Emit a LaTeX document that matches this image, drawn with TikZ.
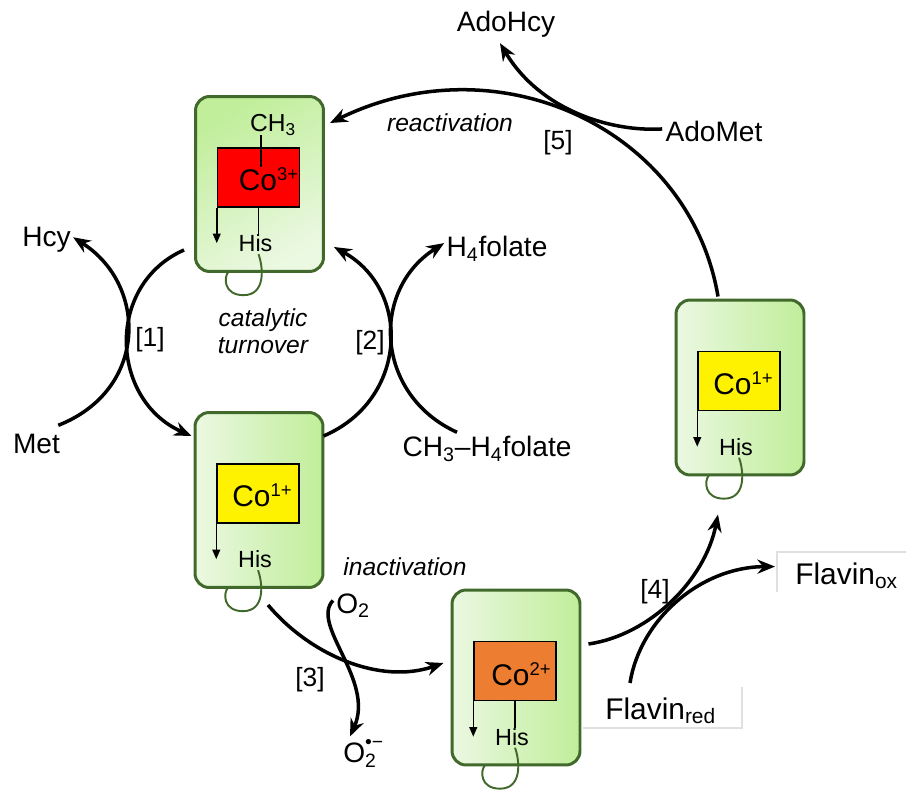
\documentclass[tikz,border=0pt]{standalone}
\usepackage{fontspec}
\setmainfont{Liberation Sans}
\usetikzlibrary{arrows.meta, positioning, shapes}

\definecolor{boxline}{HTML}{41692B}
\definecolor{boxlight}{HTML}{EBF8E2}
\definecolor{boxdark}{HTML}{C0EE9A}
\definecolor{coorange}{HTML}{ED7D31}

\begin{document}
\begin{tikzpicture}[
    x = 0.02cm, y = -0.02cm, % one unit per pixel, y pointing down
    > = {Stealth[length=10pt, width=8pt]}, % arrow head style
    every node/.style = {inner sep=0pt},
    enzyme/.style = {draw=boxline, line width=1.7pt, rounded corners=8pt,
        minimum width=2.56cm, minimum height=3.5cm,
        left color=boxlight, right color=boxdark},
    core/.style = {draw=black, line width=0.85pt, minimum width=1.64cm, minimum height=1.18cm},
    ion/.style = {font=\fontsize{17}{20}\selectfont},
    his/.style = {font=\fontsize{13.3}{16}\selectfont},
    species/.style = {font=\fontsize{16}{19}\selectfont, anchor=base},
    flavin/.style = {font=\fontsize{17}{20}\selectfont, anchor=base west},
    stepno/.style = {font=\fontsize{15}{18}\selectfont, anchor=base},
    note/.style = {font=\fontsize{14}{15.3}\selectfont\itshape, align=center},
    flow/.style = {->, line width=2pt}, % reaction arrows
    ligand/.style = {line width=0.85pt},
    faint/.style = {draw=black!12, line width=0.6pt},
    hisloop/.pic = {
        \draw[boxline, line width=1.1pt] (3,11) .. controls (8,25) and (10,52) .. (-12,52)
            .. controls (-32,52) and (-32,34) .. (-27,28.5);
    }
    ]

    \useasboundingbox (0,0) rectangle (906,790);

    % enzyme states
    \node[enzyme, top color=boxdark, bottom color=boxlight, shading angle=30] (bA) at (259.5,184) {};
    \node[enzyme] (bB) at (259,500) {};
    \node[enzyme] (bC) at (516,677.5) {};
    \node[enzyme] (bD) at (740,387.5) {};

    \node[core, fill=red] (cA) at ([shift={(-1,-6.5)}]bA.center) {};
    \node[core, fill=yellow] (cB) at ([shift={(-1,-6.5)}]bB.center) {};
    \node[core, fill=coorange] (cC) at ([shift={(-1,-6.5)}]bC.center) {};
    \node[core, fill=yellow] (cD) at ([shift={(-1,-6.5)}]bD.center) {};

    \node[ion] (coA) at ([shift={(10,2)}]cA.center) {Co\raisebox{5.7pt}{\fontsize{10.5}{11}\selectfont 3+}};
    \node[ion] (coB) at ([shift={(4,2)}]cB.center) {Co\raisebox{5.7pt}{\fontsize{10.5}{11}\selectfont 1+}};
    \node[ion] (coC) at ([shift={(6,3)}]cC.center) {Co\raisebox{5.7pt}{\fontsize{10.5}{11}\selectfont 2+}};
    \node[ion] (coD) at ([shift={(4,2)}]cD.center) {Co\raisebox{5.7pt}{\fontsize{10.5}{11}\selectfont 1+}};

    \node[his] (hA) [below=0.53cm of cA, xshift=-1.7pt] {His};
    \node[his] (hB) [below=0.53cm of cB, xshift=-1.7pt] {His};
    \node[his] (hC) [below=0.53cm of cC, xshift=-1.7pt] {His};
    \node[his] (hD) [below=0.53cm of cD, xshift=-1.7pt] {His};

    \node[his, font=\fontsize{14}{16}\selectfont, anchor=base] (meA) at ([shift={(14.5,-16)}]cA.north) {CH\textsubscript{3}};
    \draw[ligand] ([shift={(2.5,-12)}]cA.north) -- ([shift={(2.5,20)}]cA.north);

    \draw[ligand] (cA.south) -- (cA.south |- hA.north);
    \draw[ligand] (cC.south) -- (cC.south |- hC.north);
    \draw[ligand, -{Triangle[length=5.5pt, width=4.5pt]}] (cA.south west) -- (cA.south west |- hA);
    \draw[ligand, -{Triangle[length=5.5pt, width=4.5pt]}] (cB.south west) -- (cB.south west |- hB);
    \draw[ligand, -{Triangle[length=5.5pt, width=4.5pt]}] (cC.south west) -- (cC.south west |- hC);
    \draw[ligand, -{Triangle[length=5.5pt, width=4.5pt]}] (cD.south west) -- (cD.south west |- hD);

    \pic at (hA) {hisloop};
    \pic at (hB) {hisloop};
    \pic at (hC) {hisloop};
    \pic at (hD) {hisloop};

    % substrates and products
    \node[species] (adohcy) at (506,32) {AdoHcy};
    \node[species] (adomet) at (714,142) {AdoMet};
    \node[species] (hcy) at (46.5,247) {Hcy};
    \node[species] (met) at (36.5,453) {Met};
    \node[species] (h4fol) at (497,257) {H\textsubscript{4}folate};
    \node[species] (ch3fol) at (487,457) {CH\textsubscript{3}--H\textsubscript{4}folate};
    \node[species, anchor=base west] (o2) at (336,613) {O\textsubscript{2}};
    \node[species, anchor=base west] (sox) at (343,762)
        {O\rlap{\raisebox{-3pt}{\fontsize{11}{11}\selectfont 2}}\raisebox{7.5pt}{\fontsize{11}{11}\selectfont •−}};
    \node[flavin] (flred) at (605,719) {Flavin\textsubscript{red}};
    \node[flavin] (flox) at (795,584) {Flavin\textsubscript{ox}};
    \draw[faint] (583,728) -| (742,687);
    \draw[faint] (777,592) |- (906,552);

    % step numbers and notes
    \node[stepno] (s1) at (150,346.5) {[1]};
    \node[stepno] (s2) at (370,349.5) {[2]};
    \node[stepno] (s3) at (310,686.5) {[3]};
    \node[stepno] (s4) at (655,598) {[4]};
    \node[stepno] (s5) at (558,149.5) {[5]};
    \node[note] (turn) at (263,331) {catalytic\\turnover};
    \node[note, anchor=base] (react) at (450,132) {reactivation};
    \node[note, anchor=base] (inact) at (405,575) {inactivation};

    % [1]
    \draw[flow] ([shift={(-10,-23)}]bA.south west) .. controls (105,285) and (110,400) .. ([shift={(-2,25)}]bB.north west);
    \draw[flow] ([shift={(-2,-8)}]met.north east) .. controls (148,390) and (148,285) .. ([shift={(2,-3)}]hcy.east);
    % [2]
    \draw[flow] ([shift={(-1,25)}]bB.north east) .. controls (408,400) and (412,290) .. ([shift={(9,-26)}]bA.south east);
    \draw[flow] ([shift={(-30,-4)}]ch3fol.north) .. controls (375,395) and (370,290) .. ([shift={(-2,-6)}]h4fol.west);
    % [3]
    \draw[flow] ([shift={(9,16)}]bB.south) .. controls (310,655) and (380,685) .. ([shift={(-7,-14.5)}]bC.west);
    \draw[flow] ([shift={(-3,-5)}]o2.west) .. controls (310,625) and (375,680) .. ([shift={(7,-3)}]sox.north west);
    % [4]
    \draw[flow] ([shift={(7,-33.5)}]bC.east) .. controls (650,635) and (705,580) .. ([shift={(-22,38)}]bD.south);
    \draw[flow] ([shift={(25,-14)}]flred.north west) .. controls (640,620) and (700,567) .. ([shift={(-20,-9)}]flox.west);
    % [5]
    \draw[flow] ([shift={(-22,-2)}]bD.north) .. controls (690,130) and (500,40) .. ([shift={(5,28)}]bA.north east);
    \draw[flow] ([shift={(-3,-3)}]adomet.west) .. controls (610,132) and (540,110) .. ([shift={(-6,5)}]adohcy.south);

\end{tikzpicture}
\end{document}
